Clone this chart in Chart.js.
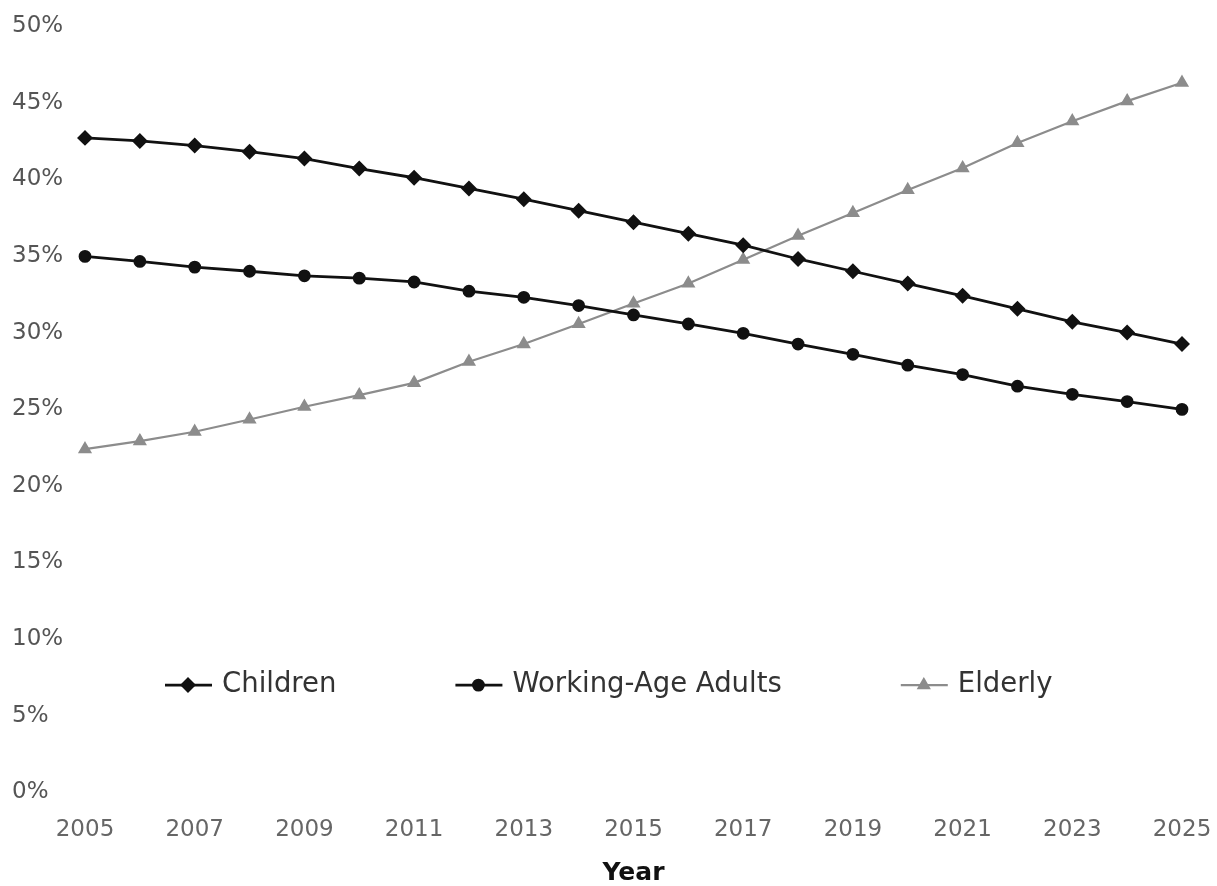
<!DOCTYPE html>
<html>
<head>
<meta charset="utf-8">
<script src="https://cdn.jsdelivr.net/npm/chart.js@4.4.1/dist/chart.umd.min.js"></script>
<style>
  html, body { margin: 0; padding: 0; background: #fff; }
  #wrap { width: 1217px; height: 886px; }
</style>
</head>
<body>
<div id="wrap"><canvas id="popChart"></canvas></div>
<script>
const years = [
  "2005","2006","2007","2008","2009","2010","2011","2012","2013","2014",
  "2015","2016","2017","2018","2019","2020","2021","2022","2023","2024","2025"
];

const children = [
  42.7, 42.5, 42.2, 41.8, 41.35, 40.7, 40.1, 39.4, 38.7, 37.95,
  37.2, 36.45, 35.7, 34.8, 34.0, 33.2, 32.4, 31.55, 30.7, 30.0, 29.25
];

const workingAge = [
  34.97, 34.64, 34.27, 34.0, 33.7, 33.55, 33.3, 32.7, 32.3, 31.76,
  31.15, 30.56, 29.95, 29.25, 28.58, 27.87, 27.26, 26.5, 25.97, 25.5, 24.99
];

const elderly = [
  22.39, 22.92, 23.53, 24.33, 25.16, 25.92, 26.72, 28.1, 29.25, 30.56,
  31.9, 33.2, 34.75, 36.32, 37.8, 39.3, 40.73, 42.37, 43.79, 45.1, 46.3
];

const seriesNames = ["Children", "Working-Age Adults", "Elderly"];

// legend drawn inside the plot, line + marker like the original
const inlineLegend = {
  id: 'inlineLegend',
  afterDatasetsDraw(chart) {
    const ctx = chart.ctx;
    const area = chart.chartArea;
    const y = chart.scales.y.getPixelForValue(7);
    let x = area.left + 80;
    ctx.save();
    ctx.font = '27.5px "DejaVu Sans", sans-serif';
    ctx.textBaseline = 'middle';
    chart.data.datasets.forEach((ds) => {
      ctx.strokeStyle = ds.borderColor;
      ctx.fillStyle = ds.pointBackgroundColor;
      ctx.lineWidth = ds.borderWidth;
      ctx.beginPath();
      ctx.moveTo(x, y);
      ctx.lineTo(x + 47, y);
      ctx.stroke();
      Chart.helpers.drawPoint(ctx, { pointStyle: ds.pointStyle, radius: ds.pointRadius, rotation: 0, borderWidth: 1 }, x + 23, y);
      ctx.fillStyle = '#333';
      ctx.fillText(ds.label, x + 57, y);
      x += 57 + ctx.measureText(ds.label).width + 119;
    });
    ctx.restore();
  }
};

const ctx = document.getElementById('popChart').getContext('2d');
new Chart(ctx, {
  type: 'line',
  data: {
    labels: years,
    datasets: [
      {
        label: seriesNames[0],
        data: children,
        borderColor: '#111',
        backgroundColor: '#111',
        pointBackgroundColor: '#111',
        pointBorderColor: '#111',
        borderWidth: 2.8,
        pointStyle: 'rectRot',
        pointRadius: 6,
        tension: 0
      },
      {
        label: seriesNames[1],
        data: workingAge,
        borderColor: '#111',
        backgroundColor: '#111',
        pointBackgroundColor: '#111',
        pointBorderColor: '#111',
        borderWidth: 2.8,
        pointStyle: 'circle',
        pointRadius: 5,
        tension: 0
      },
      {
        label: seriesNames[2],
        data: elderly,
        borderColor: '#8c8c8c',
        backgroundColor: '#8c8c8c',
        pointBackgroundColor: '#8c8c8c',
        pointBorderColor: '#8c8c8c',
        borderWidth: 2.2,
        pointStyle: 'triangle',
        pointRadius: 6,
        tension: 0
      }
    ]
  },
  options: {
    responsive: true,
    maintainAspectRatio: false,
    animation: false,
    layout: { padding: { left: 12, right: 35, top: 26, bottom: 0 } },
    plugins: {
      legend: { display: false },
      tooltip: { enabled: false }
    },
    scales: {
      x: {
        offset: false,
        grid: { display: false, drawTicks: false },
        border: { display: false },
        afterFit: function (scale) { scale.paddingRight = 0; scale.paddingLeft = 0; },
        ticks: {
          color: '#666',
          font: { family: 'DejaVu Sans', size: 23 },
          padding: 24,
          autoSkip: false,
          maxRotation: 0,
          callback: function (val, i) { return i % 2 === 0 ? years[i] : ''; }
        },
        title: {
          display: true,
          text: 'Year',
          color: '#111',
          font: { family: 'DejaVu Sans', size: 25, weight: 'bold', lineHeight: 1 },
          padding: { top: -7, bottom: 0 }
        }
      },
      y: {
        min: 0,
        max: 50,
        grid: { display: false, drawTicks: false },
        border: { display: false },
        afterFit: function (scale) { scale.width = 73; },
        ticks: {
          stepSize: 5,
          color: '#555',
          crossAlign: 'far',
          font: { family: 'DejaVu Sans', size: 23 },
          callback: function (v) { return v + '%'; }
        }
      }
    }
  },
  plugins: [inlineLegend]
});
</script>
</body>
</html>
